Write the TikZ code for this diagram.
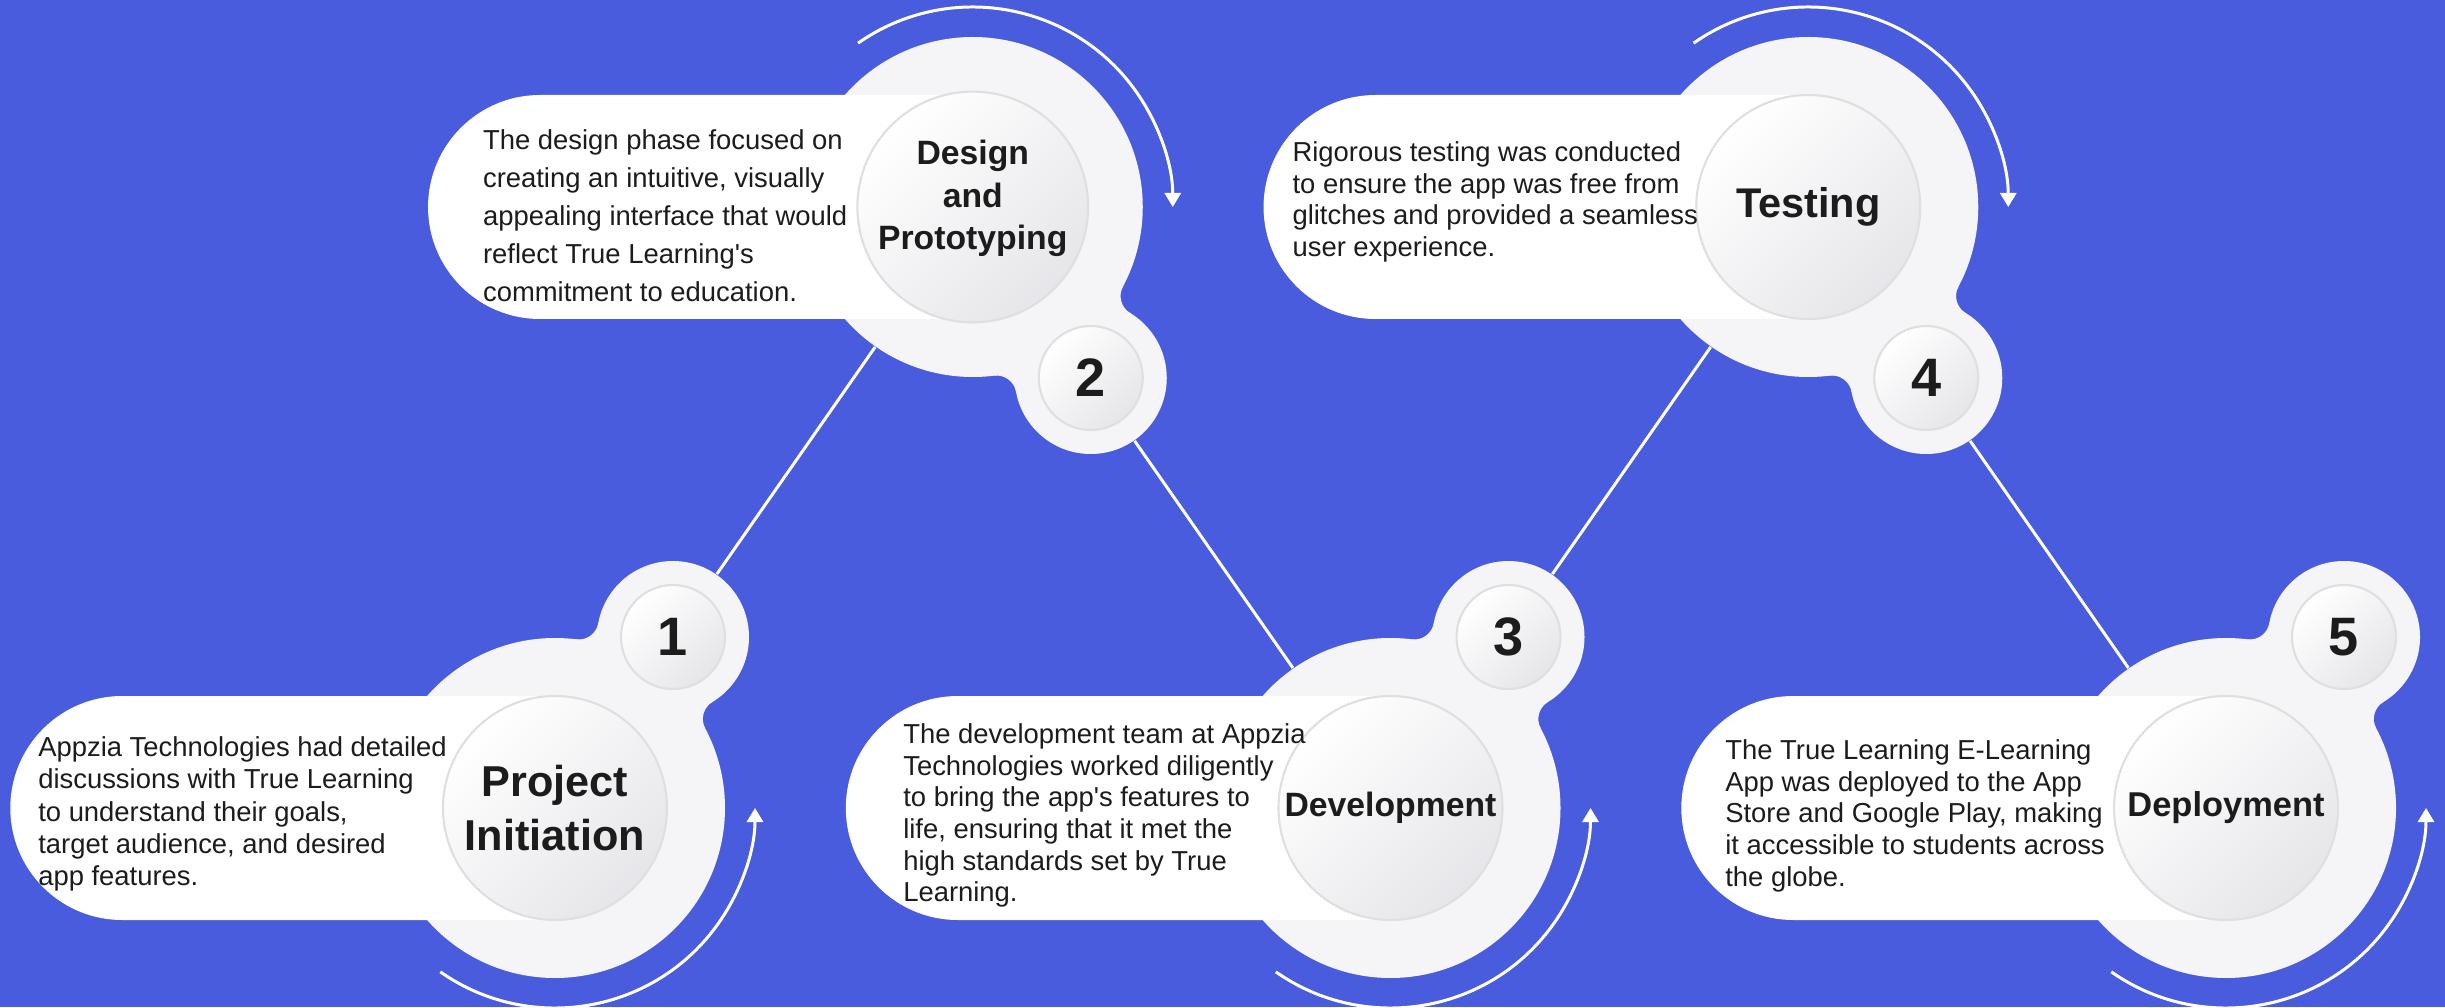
\documentclass[tikz,border=0pt]{standalone}
\usepackage{fontspec}
\setmainfont{Liberation Sans}
\usetikzlibrary{positioning,arrows.meta,shapes.misc,backgrounds}
\definecolor{bgblue}{RGB}{73,92,221}
\definecolor{disk}{RGB}{245,245,247}
\definecolor{shadegrey}{RGB}{230,230,234}
\definecolor{ink}{RGB}{28,28,28}

\begin{document}
\begin{tikzpicture}[on grid,
    bigdisk/.style={circle,fill=disk,minimum size=3.4cm,inner sep=0pt},
    halo/.style={circle,fill=disk,minimum size=1.52cm,inner sep=0pt},
    pill/.style={rounded rectangle,rounded rectangle right arc=none,fill=white,
      minimum width=5.44cm,minimum height=2.24cm,inner sep=0pt,anchor=east},
    title node/.style={circle,minimum size=2.24cm,inner sep=0pt,draw=gray!25,line width=0.6pt,
      top color=white,bottom color=shadegrey,shading angle=45,align=center,text=ink},
    num node/.style={circle,minimum size=1.04cm,inner sep=0pt,draw=gray!25,line width=0.6pt,
      top color=white,bottom color=shadegrey,shading angle=45,text=ink,
      font=\bfseries\fontsize{15.4}{18}\selectfont},
    desc/.style={anchor=north west,align=left,inner sep=0pt,text=ink,font=\fontsize{7.8}{9.2}\selectfont},
    link/.style={draw=white,line width=0.85pt},
    turn/.style={draw=white,line width=0.85pt,-{Triangle[width=1.6mm,length=1.4mm]}}]
  \useasboundingbox (0,0) rectangle (24.45,10.07);

  % big discs, zig-zag
  \node[bigdisk] (b1) at (5.55,1.99) {};
  \node[bigdisk] (b2) [above right=6.01cm and 4.1775cm of b1] {};
  \node[bigdisk] (b3) [below right=6.01cm and 4.1775cm of b2] {};
  \node[bigdisk] (b4) [above right=6.01cm and 4.1775cm of b3] {};
  \node[bigdisk] (b5) [below right=6.01cm and 4.1775cm of b4] {};

  % halos for the step numbers
  \node[halo] (h1) [above right=1.71cm and 1.18cm of b1] {};
  \node[halo] (h2) [below right=1.71cm and 1.18cm of b2] {};
  \node[halo] (h3) [above right=1.71cm and 1.18cm of b3] {};
  \node[halo] (h4) [below right=1.71cm and 1.18cm of b4] {};
  \node[halo] (h5) [above right=1.71cm and 1.18cm of b5] {};

  % rounded necks between disc and halo
  \foreach \b/\a in {b1/55.39,b3/55.39,b5/55.39,b2/-55.39,b4/-55.39}
    \fill[disk,shift={(\b.center)},rotate=\a] (1.508,0.784)
      arc[start angle=207.3,end angle=294.2,radius=0.2] -- (1.768,-0.6935)
      arc[start angle=65.8,end angle=152.7,radius=0.2] -- cycle;

  \begin{scope}[on background layer]
    \fill[bgblue] (0,0) rectangle (24.45,10.07);
    \path[link] (h1) -- (b2) (h2) -- (b3) (h3) -- (b4) (h4) -- (b5);
  \end{scope}

  % text pills
  \foreach \i in {1,...,5}
    \node[pill] (p\i) at (b\i.center) {};

  % step titles
  \node[title node,font=\bfseries\fontsize{12.3}{15.6}\selectfont] (c1) at (b1.center) {Project\\Initiation};
  \node[title node,font=\bfseries\fontsize{9.6}{12.1}\selectfont,text depth=0.24cm] (c2) at (b2.center) {Design\\and\\Prototyping};
  \node[title node,font=\bfseries\fontsize{9.6}{12.1}\selectfont] (c3) at (b3.center) {Development};
  \node[title node,font=\bfseries\fontsize{11.8}{14}\selectfont] (c4) at (b4.center) {Testing};
  \node[title node,font=\bfseries\fontsize{9.8}{12}\selectfont] (c5) at (b5.center) {Deployment};

  % step numbers
  \foreach \i in {1,...,5}
    \node[num node] (n\i) at (h\i.center) {\i};

  % descriptions
  \node[desc] (d1) at ([xshift=2.8mm,yshift=7.2mm]p1.west) {Appzia Technologies had detailed\\discussions with True Learning\\to understand their goals,\\target audience, and desired\\app features.};
  \node[desc,font=\fontsize{7.8}{10.8}\selectfont] (d2) at ([xshift=5.5mm,yshift=7.8mm]p2.west) {The design phase focused on\\creating an intuitive, visually\\appealing interface that would\\reflect True Learning\textquotesingle s\\commitment to education.};
  \node[desc,font=\fontsize{7.8}{9}\selectfont] (d3) at ([xshift=5.75mm,yshift=8.5mm]p3.west) {The development team at Appzia\\Technologies worked diligently\\to bring the app\textquotesingle s features to\\life, ensuring that it met the\\high standards set by True\\Learning.};
  \node[desc,font=\fontsize{7.8}{9}\selectfont] (d4) at ([xshift=2.9mm,yshift=6.6mm]p4.west) {Rigorous testing was conducted\\to ensure the app was free from\\glitches and provided a seamless\\user experience.};
  \node[desc,font=\fontsize{7.8}{9}\selectfont] (d5) at ([xshift=4.4mm,yshift=6.9mm]p5.west) {The True Learning E-Learning\\App was deployed to the App\\Store and Google Play, making\\it accessible to students across\\the globe.};

  % turning arrows
  \foreach \b in {b1,b3,b5}
    \draw[turn] ([shift={(-125:2)}]\b.center) arc[start angle=-125,end angle=0,radius=2];
  \foreach \b in {b2,b4}
    \draw[turn] ([shift={(125:2)}]\b.center) arc[start angle=125,end angle=0,radius=2];
\end{tikzpicture}
\end{document}
